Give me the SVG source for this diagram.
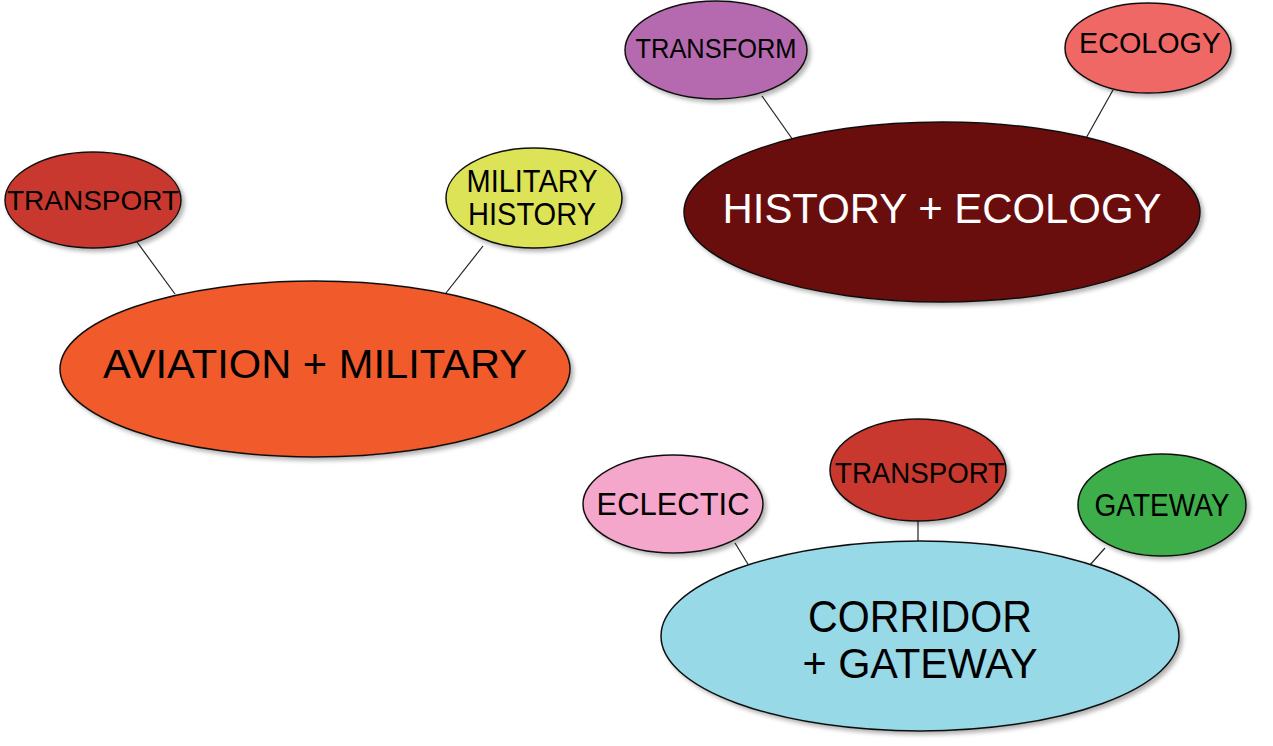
<svg xmlns="http://www.w3.org/2000/svg" width="1273" height="746" viewBox="0 0 1273 746">
<style>
.n{stroke:#111;stroke-width:1.5;filter:url(#sh)}
.t{font-family:"Liberation Sans",Arial,sans-serif;fill:#000;text-anchor:middle}
.w{fill:#fff}
.c line{stroke:#222;stroke-width:1.2}
</style>
<defs>
<filter id="sh" x="-10%" y="-10%" width="125%" height="130%">
<feDropShadow dx="3" dy="3" stdDeviation="2" flood-color="#000" flood-opacity="0.3"/>
</filter>
</defs>
<rect width="1273" height="746" fill="#fff"/>
<g class="c" id="connectors">
<line x1="137" y1="242" x2="175" y2="294"/>
<line x1="483" y1="246" x2="446" y2="293"/>
<line x1="762" y1="96" x2="793" y2="140"/>
<line x1="1113" y1="90" x2="1085" y2="140"/>
<line x1="735" y1="543" x2="754" y2="574"/>
<line x1="918" y1="520" x2="918" y2="550"/>
<line x1="1105" y1="548" x2="1082" y2="574"/>
</g>
<g id="aviation">
<ellipse class="n" cx="315" cy="369" rx="255" ry="88" fill="#F15A29"/>
<text class="t" x="315" y="378" font-size="41" textLength="424" lengthAdjust="spacingAndGlyphs">AVIATION + MILITARY</text>
</g>
<g id="transport1">
<ellipse class="n" cx="93" cy="200" rx="88" ry="48" fill="#C8372D"/>
<text class="t" x="93" y="210" font-size="28" textLength="172" lengthAdjust="spacingAndGlyphs">TRANSPORT</text>
</g>
<g id="military-history">
<ellipse class="n" cx="534" cy="198" rx="88" ry="50" fill="#DDE356"/>
<text class="t" x="532" y="192" font-size="32" textLength="131" lengthAdjust="spacingAndGlyphs">MILITARY</text>
<text class="t" x="532" y="225" font-size="32" textLength="128" lengthAdjust="spacingAndGlyphs">HISTORY</text>
</g>
<g id="history-ecology">
<ellipse class="n" cx="942" cy="212" rx="258" ry="90" fill="#6B1010"/>
<text class="t w" x="942" y="223" font-size="42" textLength="439" lengthAdjust="spacingAndGlyphs">HISTORY + ECOLOGY</text>
</g>
<g id="transform">
<ellipse class="n" cx="716" cy="50" rx="91" ry="49" fill="#B56BAF"/>
<text class="t" x="716" y="58" font-size="28" textLength="161" lengthAdjust="spacingAndGlyphs">TRANSFORM</text>
</g>
<g id="ecology">
<ellipse class="n" cx="1148" cy="48" rx="83" ry="45" fill="#F06766"/>
<text class="t" x="1150" y="53" font-size="30" textLength="142" lengthAdjust="spacingAndGlyphs">ECOLOGY</text>
</g>
<g id="corridor">
<ellipse class="n" cx="920" cy="636" rx="259" ry="95" fill="#98D9E8"/>
<text class="t" x="920" y="632" font-size="44" textLength="224" lengthAdjust="spacingAndGlyphs">CORRIDOR</text>
<text class="t" x="920" y="678" font-size="43" textLength="235" lengthAdjust="spacingAndGlyphs">+ GATEWAY</text>
</g>
<g id="eclectic">
<ellipse class="n" cx="673" cy="504" rx="90" ry="49" fill="#F4A6CB"/>
<text class="t" x="673" y="515" font-size="32" textLength="153" lengthAdjust="spacingAndGlyphs">ECLECTIC</text>
</g>
<g id="transport2">
<ellipse class="n" cx="918" cy="470" rx="88" ry="51" fill="#C8372D"/>
<text class="t" x="920" y="483" font-size="30" textLength="170" lengthAdjust="spacingAndGlyphs">TRANSPORT</text>
</g>
<g id="gateway">
<ellipse class="n" cx="1162" cy="505" rx="84" ry="51" fill="#3EAE48"/>
<text class="t" x="1162" y="516" font-size="32" textLength="135" lengthAdjust="spacingAndGlyphs">GATEWAY</text>
</g>
</svg>
